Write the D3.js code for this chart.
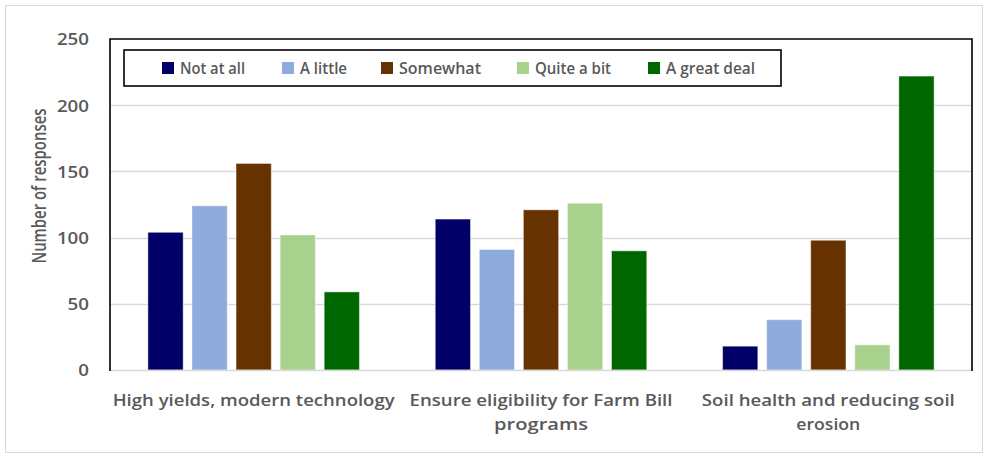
<!DOCTYPE html>
<html>
<head>
<meta charset="utf-8">
<script src="https://cdn.jsdelivr.net/npm/d3@7"></script>
<style>
  html, body { margin: 0; padding: 0; background: #fff; }
  svg { display: block; }
</style>
</head>
<body>
<svg id="chart" width="987" height="457"></svg>
<script>
// ---- data ----
const categories = [
  ["High yields, modern technology"],
  ["Ensure eligibility for Farm Bill", "programs"],
  ["Soil health and reducing soil", "erosion"]
];
const categoryKeys = ["High yields", "Farm Bill", "Soil health"];
const seriesNames = ["Not at all", "A little", "Somewhat", "Quite a bit", "A great deal"];
const seriesColors = ["#000066", "#8faadc", "#663300", "#a9d18e", "#006600"];
const notAtAll   = [104, 114, 18];
const aLittle    = [124, 91, 38];
const somewhat   = [156, 121, 98];
const quiteABit  = [102, 126, 19];
const aGreatDeal = [59, 90, 222];
const seriesValues = [notAtAll, aLittle, somewhat, quiteABit, aGreatDeal];
const yTicks = [0, 50, 100, 150, 200, 250];
const yTitle = "Number of responses";

// ---- layout ----
const svg = d3.select("#chart");
const pLeft = 110, pRight = 972, pTop = 39, pBottom = 370;
const textColor = "#595959";
const font = "'Open Sans', 'Liberation Sans', sans-serif";

// outer frame
svg.append("rect").attr("x", 5.5).attr("y", 5.5).attr("width", 977).attr("height", 447)
  .attr("fill", "#fff").attr("stroke", "#d9d9d9").attr("stroke-width", 1);

const y = d3.scaleLinear().domain([0, 250]).range([pBottom, pTop]);
const x0 = d3.scaleBand().domain(categoryKeys).range([pLeft, pRight]).padding(0);
const x1 = d3.scaleBand().domain(seriesNames).range([0, x0.bandwidth()])
  .paddingInner(0.2).paddingOuter(0.86);

// gridlines
svg.append("g").selectAll("line").data(yTicks.filter(d => d > 0 && d < 250)).join("line")
  .attr("x1", pLeft).attr("x2", pRight)
  .attr("y1", d => Math.round(y(d)) + 0.5).attr("y2", d => Math.round(y(d)) + 0.5)
  .attr("stroke", "#d9d9d9").attr("stroke-width", 1.5);

// bars
const groups = svg.append("g").selectAll("g").data(categoryKeys).join("g")
  .attr("transform", d => `translate(${x0(d)},0)`);
groups.selectAll("rect")
  .data((d, i) => seriesNames.map((s, j) => ({ s, j, v: seriesValues[j][i] })))
  .join("rect")
  .attr("x", d => x1(d.s))
  .attr("width", x1.bandwidth())
  .attr("y", d => y(d.v))
  .attr("height", d => y(0) - y(d.v))
  .attr("fill", d => seriesColors[d.j])
  .attr("stroke", "rgba(255,255,255,0.45)")
  .attr("stroke-width", 1);

// baseline (gray)
svg.append("line").attr("x1", pLeft).attr("x2", pRight)
  .attr("y1", pBottom + 0.5).attr("y2", pBottom + 0.5)
  .attr("stroke", "#d9d9d9").attr("stroke-width", 1.5);

// plot border: top, left, right in black
svg.append("path")
  .attr("d", `M${pLeft},${pBottom + 1}V${pTop}H${pRight}V${pBottom + 1}`)
  .attr("fill", "none").attr("stroke", "#000").attr("stroke-width", 1.6);

// y axis tick labels
const yAxis = d3.axisLeft(y).tickValues(yTicks).tickSize(0).tickPadding(0);
const yg = svg.append("g").attr("transform", `translate(89,0)`).call(yAxis);
yg.select(".domain").remove();
yg.selectAll("text")
  .attr("fill", textColor).attr("font-family", font).attr("font-weight", 600)
  .attr("font-size", 17).attr("dy", "0.35em")
  .each(function (d) {
    const w = String(d).length * 10.7;
    d3.select(this).attr("textLength", w).attr("lengthAdjust", "spacingAndGlyphs");
  });

// y axis title
svg.append("text")
  .attr("transform", `translate(46,${186}) rotate(-90)`)
  .attr("text-anchor", "middle")
  .attr("fill", textColor).attr("font-family", font).attr("font-weight", 600)
  .attr("font-size", 19)
  .attr("textLength", 155).attr("lengthAdjust", "spacingAndGlyphs")
  .text(yTitle);

// category labels
const catWidths = [[282], [263, 94], [253, 64]];
categories.forEach((lines, i) => {
  const cx = x0(categoryKeys[i]) + x0.bandwidth() / 2;
  lines.forEach((ln, k) => {
    svg.append("text")
      .attr("x", cx).attr("y", 406 + k * 24)
      .attr("text-anchor", "middle")
      .attr("fill", textColor).attr("font-family", font).attr("font-weight", 600)
      .attr("font-size", 17)
      .attr("textLength", catWidths[i][k]).attr("lengthAdjust", "spacingAndGlyphs")
      .text(ln);
  });
});

// legend
svg.append("rect").attr("x", 124).attr("y", 50).attr("width", 657).attr("height", 36)
  .attr("fill", "#fff").attr("stroke", "#000").attr("stroke-width", 1.6);
const legendX = [162, 282, 381, 517, 648];
const legendW = [65, 47, 82, 76, 89];
const lg = svg.append("g").selectAll("g").data(seriesNames).join("g")
  .attr("transform", (d, i) => `translate(${legendX[i]},62)`);
lg.append("rect").attr("width", 12).attr("height", 12)
  .attr("fill", (d, i) => seriesColors[i]);
lg.append("text").attr("x", 18).attr("y", 6).attr("dy", "0.36em")
  .attr("fill", textColor).attr("font-family", font).attr("font-weight", 600)
  .attr("font-size", 17)
  .attr("textLength", (d, i) => legendW[i]).attr("lengthAdjust", "spacingAndGlyphs")
  .text(d => d);
</script>
</body>
</html>
